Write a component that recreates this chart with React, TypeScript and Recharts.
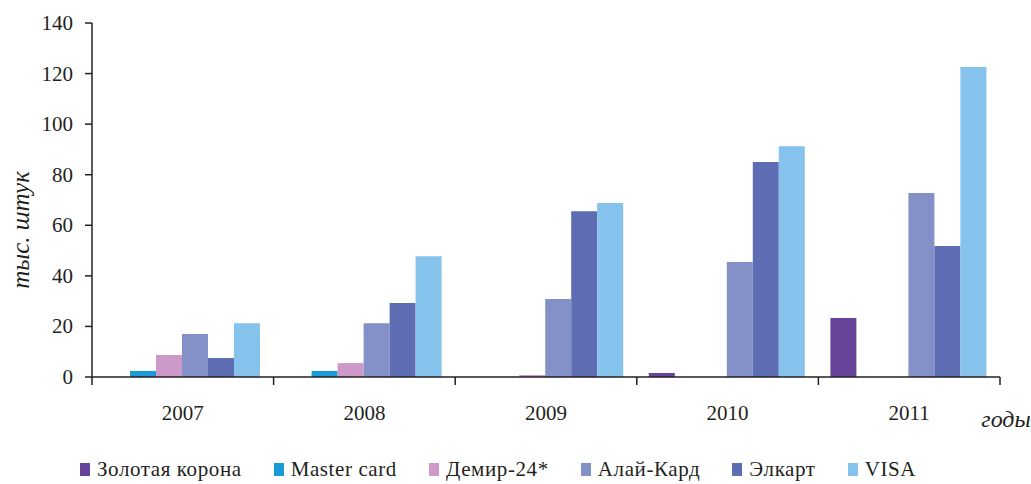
import React from 'react';
import { BarChart, Bar, XAxis, YAxis, Legend, Label } from 'recharts';

const years = ['2007', '2008', '2009', '2010', '2011'];
const zolotayaKorona = [0, 0, 0, 1.6, 23.3];
const masterCard = [2.4, 2.4, 0, 0, 0];
const demir24 = [8.7, 5.5, 0.8, 0, 0];
const alaiKard = [17.0, 21.3, 30.8, 45.5, 72.8];
const elkart = [7.5, 29.3, 65.6, 85.0, 51.8];
const visa = [21.3, 47.8, 68.8, 91.3, 122.6];
const yTicks = [0, 20, 40, 60, 80, 100, 120, 140];

const series = [
  { key: 'zk', name: 'Золотая корона', color: '#66449A', values: zolotayaKorona },
  { key: 'mc', name: 'Master card', color: '#1A9BD7', values: masterCard },
  { key: 'dm', name: 'Демир-24*', color: '#CC99C8', values: demir24 },
  { key: 'ak', name: 'Алай-Кард', color: '#8491C8', values: alaiKard },
  { key: 'el', name: 'Элкарт', color: '#5E6DB3', values: elkart },
  { key: 'vi', name: 'VISA', color: '#85C2EC', values: visa },
];

const data = years.map((y, i) => {
  const row: any = { year: y };
  series.forEach((s) => (row[s.key] = s.values[i]));
  return row;
});

const FONT = 'Liberation Serif';
const INK = '#231F20';

const XTick = (props: any) => {
  const { x, y, payload, index, width, visibleTicksCount } = props;
  const half = width / visibleTicksCount / 2;
  return (
    <g>
      <line x1={x - half} x2={x - half} y1={y} y2={y + 8} stroke={INK} strokeWidth={1.5} />
      {index === visibleTicksCount - 1 && (
        <line x1={x + half} x2={x + half} y1={y} y2={y + 8} stroke={INK} strokeWidth={1.5} />
      )}
      <text x={x} y={y + 43} textAnchor="middle" fontFamily={FONT} fontSize={21} fill={INK}>
        {payload.value}
      </text>
    </g>
  );
};

const YTick = (props: any) => {
  const { x, y, payload } = props;
  return (
    <text x={x} y={y + 7} textAnchor="end" fontFamily={FONT} fontSize={21} fill={INK}>
      {payload.value}
    </text>
  );
};

const LegendContent = () => {
  return (
    <div
      style={{
        display: 'flex',
        justifyContent: 'center',
        alignItems: 'center',
        gap: 32,
        fontFamily: FONT,
        fontSize: 21,
        color: INK,
        height: 30,
        paddingRight: 4,
      }}
    >
      {series.map((s) => (
        <div key={s.key} style={{ display: 'flex', alignItems: 'center' }}>
          <span style={{ display: 'inline-block', width: 10, height: 13, background: s.color, marginRight: 7 }} />
          <span style={{ letterSpacing: 0.6 }}>{s.name}</span>
        </div>
      ))}
    </div>
  );
};

export default function App() {
  return (
    <div style={{ position: 'absolute', left: 0, top: 0, background: '#fff', fontFamily: FONT }}>
      <BarChart
        width={1031}
        height={484}
        data={data}
        margin={{ top: 23, right: 31, left: 0, bottom: 0 }}
        barCategoryGap={12}
        barGap={0}
      >
        <XAxis
          dataKey="year"
          height={77}
          tickSize={0}
          tickMargin={0}
          tickLine={false}
          axisLine={{ stroke: INK, strokeWidth: 1.5 }}
          tick={<XTick />}
          interval={0}
        >
          <Label
            content={(p: any) => {
              const vb = p.viewBox;
              return (
                <text
                  x={vb.x + vb.width + 6}
                  y={vb.y + 50}
                  textAnchor="middle"
                  fontFamily={FONT}
                  fontStyle="italic"
                  fontSize={24}
                  fill={INK}
                >
                  годы
                </text>
              );
            }}
          />
        </XAxis>
        <YAxis
          width={92}
          domain={[0, 140]}
          ticks={yTicks}
          interval={0}
          tickSize={7}
          tickMargin={12}
          tickLine={{ stroke: INK, strokeWidth: 1.5 }}
          axisLine={{ stroke: INK, strokeWidth: 1.5 }}
          tick={<YTick />}
        >
          <Label
            content={(p: any) => {
              const vb = p.viewBox;
              const cx = vb.x + 20;
              const cy = vb.y + vb.height / 2 + 30;
              return (
                <text
                  x={cx}
                  y={cy}
                  transform={`rotate(-90 ${cx} ${cy})`}
                  textAnchor="middle"
                  dominantBaseline="central"
                  fontFamily={FONT}
                  fontStyle="italic"
                  fontSize={25}
                  fill={INK}
                >
                  тыс. штук
                </text>
              );
            }}
          />
        </YAxis>
        <Legend verticalAlign="bottom" height={30} content={<LegendContent />} />
        {series.map((s) => (
          <Bar key={s.key} dataKey={s.key} name={s.name} fill={s.color} isAnimationActive={false} />
        ))}
      </BarChart>
    </div>
  );
}
